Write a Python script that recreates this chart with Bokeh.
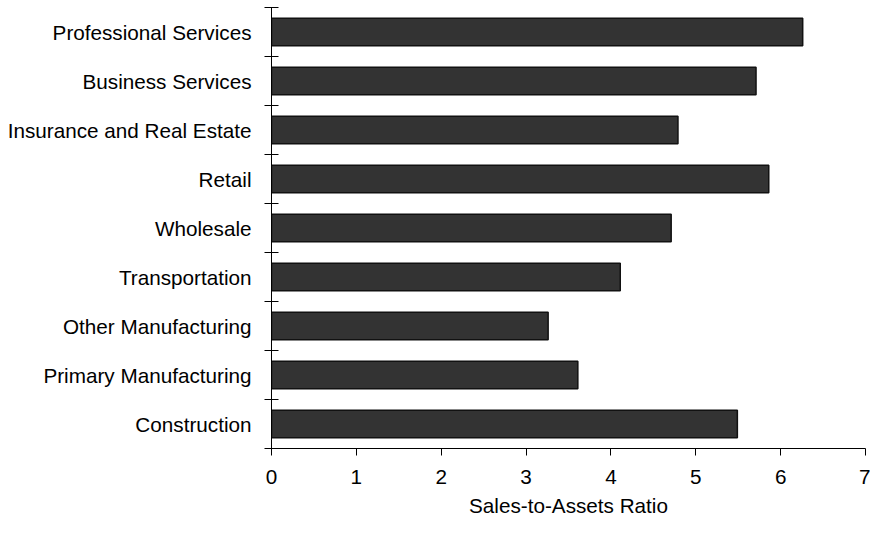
from bokeh.plotting import figure
from bokeh.models import Range1d, FixedTicker
from bokeh.embed import file_html
from bokeh.resources import INLINE

categories = ["Construction", "Primary Manufacturing", "Other Manufacturing",
              "Transportation", "Wholesale", "Retail",
              "Insurance and Real Estate", "Business Services",
              "Professional Services"]
ratios = [5.49, 3.61, 3.26, 4.11, 4.71, 5.86, 4.79, 5.71, 6.26]
x_ticks = [0, 1, 2, 3, 4, 5, 6, 7]

n = len(categories)
centers = [i + 0.5 for i in range(n)]
bounds = [i for i in range(n + 1)]

FONT = "Liberation Sans"
FS = "20.7px"

p = figure(width=870, height=519, output_backend="svg", toolbar_location=None,
           x_range=Range1d(0, 7), y_range=Range1d(0, n),
           min_border_left=271, min_border_right=5, min_border_top=7,
           min_border_bottom=70)
p.outline_line_color = None
p.xgrid.visible = False
p.ygrid.visible = False

p.hbar(y=centers, right=ratios, left=0, height=0.56,
       fill_color="#333333", line_color="#111111", line_width=1.5)

xa = p.xaxis[0]
xa.ticker = FixedTicker(ticks=x_ticks)
xa.minor_tick_line_color = None
xa.major_tick_in = 0
xa.major_tick_out = 7
xa.axis_line_color = "black"
xa.major_tick_line_color = "black"
xa.major_label_text_font = FONT
xa.major_label_text_font_size = FS
xa.major_label_text_color = "black"
xa.major_label_standoff = 14
xa.axis_label = "Sales-to-Assets Ratio"
xa.axis_label_text_font = FONT
xa.axis_label_text_font_size = FS
xa.axis_label_text_font_style = "normal"
xa.axis_label_text_color = "black"
xa.axis_label_standoff = 7

ya = p.yaxis[0]
ya.ticker = FixedTicker(ticks=centers, minor_ticks=bounds)
ya.major_label_overrides = {c: name for c, name in zip(centers, categories)}
ya.major_tick_line_color = None
ya.major_tick_in = 0
ya.major_tick_out = 6
ya.minor_tick_in = 7
ya.minor_tick_out = 7
ya.minor_tick_line_color = "black"
ya.axis_line_color = "black"
ya.major_label_text_font = FONT
ya.major_label_text_font_size = FS
ya.major_label_text_color = "black"
ya.major_label_standoff = 13

open("out.html", "w").write(file_html(p, INLINE))
